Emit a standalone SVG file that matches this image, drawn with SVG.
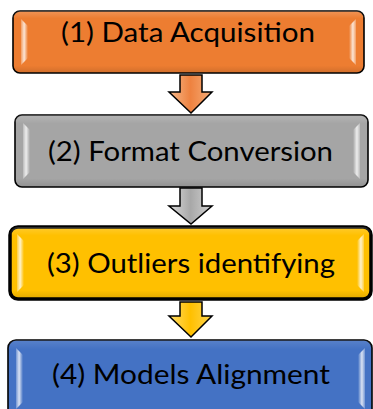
<svg xmlns="http://www.w3.org/2000/svg" width="373" height="409" viewBox="0 0 373 409">
  <style>
    .box { stroke: #000; stroke-width: 1.6; }
    .thick { stroke-width: 3.5; }
    .lbl { font-family: Lato, "Open Sans", "Liberation Sans", sans-serif; font-size: 27px; fill: #000; text-anchor: middle; }
    .arrow { stroke: #000; stroke-width: 1.5; stroke-linejoin: miter; }
    .bevL { fill: url(#bevelL); }
    .bevR { fill: url(#bevelR); }
  </style>
  <defs>
    <linearGradient id="bevelL" x1="0" y1="0" x2="1" y2="0">
      <stop offset="0" stop-color="#fff" stop-opacity="0.25"/>
      <stop offset="0.45" stop-color="#fff" stop-opacity="0.8"/>
      <stop offset="1" stop-color="#fff" stop-opacity="0"/>
    </linearGradient>
    <linearGradient id="bevelR" x1="0" y1="0" x2="1" y2="0">
      <stop offset="0" stop-color="#fff" stop-opacity="0"/>
      <stop offset="0.55" stop-color="#fff" stop-opacity="0.8"/>
      <stop offset="1" stop-color="#fff" stop-opacity="0.25"/>
    </linearGradient>
    <linearGradient id="sheen" x1="0" y1="0" x2="0" y2="1">
      <stop offset="0" stop-color="#fff" stop-opacity="0.18"/>
      <stop offset="0.12" stop-color="#fff" stop-opacity="0"/>
      <stop offset="0.88" stop-color="#000" stop-opacity="0"/>
      <stop offset="1" stop-color="#000" stop-opacity="0.12"/>
    </linearGradient>
    <linearGradient id="arOrange" x1="0" y1="0" x2="1" y2="0">
      <stop offset="0" stop-color="#f7b98a"/>
      <stop offset="0.5" stop-color="#ee8240"/>
      <stop offset="1" stop-color="#f6ad78"/>
    </linearGradient>
    <linearGradient id="arGray" x1="0" y1="0" x2="1" y2="0">
      <stop offset="0" stop-color="#dcdcdc"/>
      <stop offset="0.5" stop-color="#a8a8a8"/>
      <stop offset="1" stop-color="#d2d2d2"/>
    </linearGradient>
    <linearGradient id="arGold" x1="0" y1="0" x2="1" y2="0">
      <stop offset="0" stop-color="#ffdc6a"/>
      <stop offset="0.5" stop-color="#ffc000"/>
      <stop offset="1" stop-color="#ffd650"/>
    </linearGradient>
  </defs>

  <!-- flow arrows between the steps -->
  <g id="connectors">
    <path class="arrow" fill="url(#arOrange)" d="M180,75 H202 V92 H212 L191,113 L169,92 H180 Z"/>
    <path class="arrow" fill="url(#arGray)" d="M180,188 H202 V206 H212 L191,224 L169,206 H180 Z"/>
    <path class="arrow" fill="url(#arGold)" d="M180,302 H202 V316 H212 L191,337 L169,316 H180 Z"/>
  </g>

  <g id="step1">
    <rect class="box" x="13" y="11" width="351" height="62" rx="7" fill="#ed7d31"/>
    <rect x="13" y="11" width="351" height="62" rx="7" fill="url(#sheen)"/>
    <polygon class="bevL" points="21,19 28,26 28,58 21,65"/>
    <polygon class="bevR" points="356,19 349,26 349,58 356,65"/>
    <text class="lbl" x="188" y="41.5" textLength="254" lengthAdjust="spacingAndGlyphs">(1) Data Acquisition</text>
  </g>

  <g id="step2">
    <rect class="box" x="15" y="115" width="353" height="72" rx="7" fill="#a5a5a5"/>
    <rect x="15" y="115" width="353" height="72" rx="7" fill="url(#sheen)"/>
    <polygon class="bevL" points="23,123 30,130 30,172 23,179"/>
    <polygon class="bevR" points="360,123 353,130 353,172 360,179"/>
    <text class="lbl" x="190.5" y="160.5" textLength="285" lengthAdjust="spacingAndGlyphs">(2) Format Conversion</text>
  </g>

  <g id="step3">
    <rect class="box thick" x="10" y="227" width="361" height="72" rx="8" fill="#ffc000"/>
    <rect x="10" y="227" width="361" height="72" rx="8" fill="url(#sheen)"/>
    <polygon class="bevL" points="17,234 24,241 24,285 17,292"/>
    <polygon class="bevR" points="364,234 357,241 357,285 364,292"/>
    <text class="lbl" x="191" y="272.5" textLength="288" lengthAdjust="spacingAndGlyphs">(3) Outliers identifying</text>
  </g>

  <g id="step4">
    <rect class="box" x="8" y="340" width="364" height="80" rx="8" fill="#4472c4"/>
    <rect x="8" y="340" width="364" height="80" fill="url(#sheen)" opacity="0.6" rx="8"/>
    <polygon class="bevL" points="16,348 23,355 23,402 16,409"/>
    <polygon class="bevR" points="365,348 358,355 358,402 365,409"/>
    <text class="lbl" x="191" y="383.5" textLength="278" lengthAdjust="spacingAndGlyphs">(4) Models Alignment</text>
  </g>
</svg>
